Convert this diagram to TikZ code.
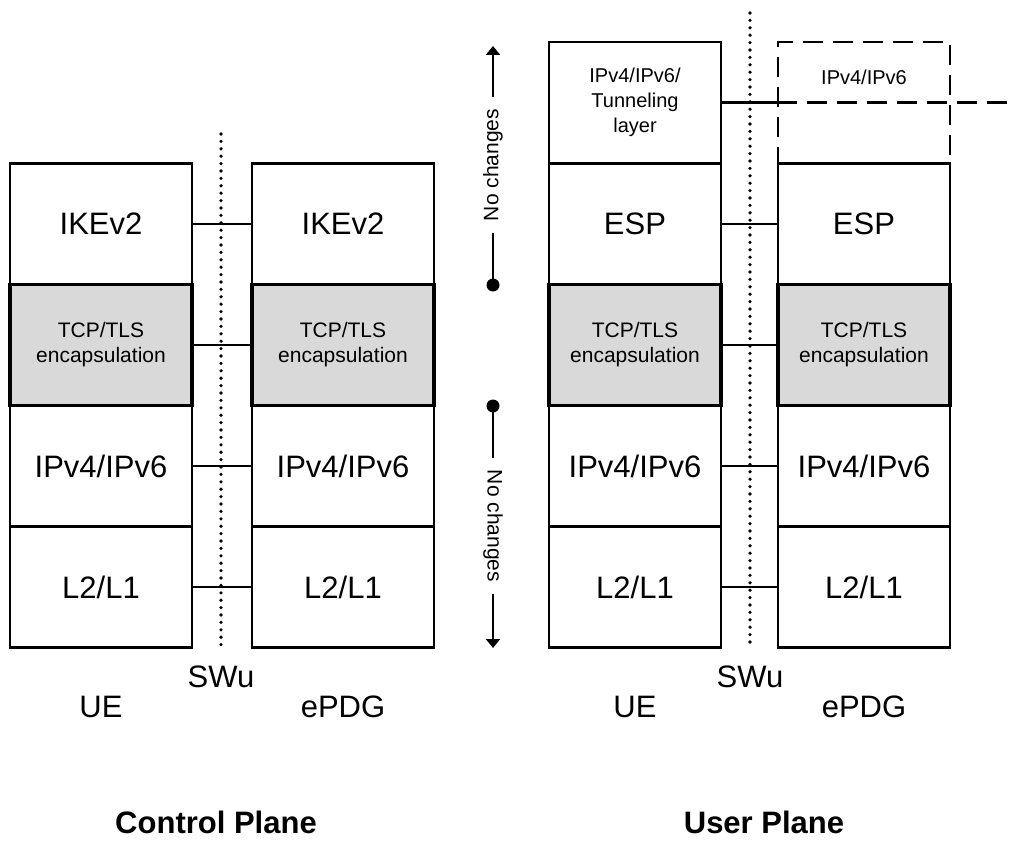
\documentclass[tikz,border=0pt]{standalone}
\usepackage{fontspec}
\setmainfont{Liberation Sans}
\usetikzlibrary{arrows.meta}
\definecolor{tcpgray}{HTML}{D9D9D9}
\begin{document}
\begin{tikzpicture}[x=1pt,y=-1pt]
\tikzset{
 lay/.style={draw=black, line width=2.8pt, minimum height=121pt, inner sep=0pt, align=center, fill=white},
 wl/.style={minimum width=182pt},
 wr/.style={minimum width=172pt},
 big/.style={font=\fontsize{31}{36}\selectfont},
 small/.style={font=\fontsize{21}{25}\selectfont},
 tun/.style={font=\fontsize{20}{25}\selectfont},
 tcp/.style={lay, small, fill=tcpgray, line width=3.8pt},
 link/.style={line width=2.3pt},
 dashedlink/.style={line width=2.6pt, dash pattern=on 20pt off 10pt},
 dots/.style={line width=3.6pt, dash pattern=on 0pt off 7.4pt, line cap=round},
 lbl/.style={font=\fontsize{31}{36}\selectfont, inner sep=0pt, anchor=base},
 title/.style={font=\bfseries\fontsize{31}{36}\selectfont, inner sep=0pt, anchor=base},
 nochg/.style={font=\fontsize{21}{25}\selectfont, fill=white, inner xsep=12pt, inner ysep=1pt},
 dotnode/.style={circle, fill=black, inner sep=0pt, minimum size=13pt},
 tip/.style={-{Triangle[length=9pt,width=14pt]}},
}
\useasboundingbox (0,0) rectangle (1013,843);

% dotted reference lines
\coordinate (d1t) at (221,134);
\coordinate (d1b) at (221,647);
\coordinate (d2t) at (750,13);
\coordinate (d2b) at (750,647);
\draw[dots] (d1t) -- (d1b);
\draw[dots] (d2t) -- (d2b);

% ---------- Control plane ----------
\node[lay,wl,big] (cu1) at (101,224) {IKEv2};
\node[lay,wl,big] (cu3) at (101,466) {IPv4/IPv6};
\node[lay,wl,big] (cu4) at (101,587) {L2/L1};
\node[tcp,wl] (cu2) at (101,345) {TCP/TLS\\encapsulation};

\node[lay,wl,big] (ce1) at (343,224) {IKEv2};
\node[lay,wl,big] (ce3) at (343,466) {IPv4/IPv6};
\node[lay,wl,big] (ce4) at (343,587) {L2/L1};
\node[tcp,wl] (ce2) at (343,345) {TCP/TLS\\encapsulation};

\draw[link] (cu1) -- (ce1);
\draw[link] (cu2) -- (ce2);
\draw[link] (cu3) -- (ce3);
\draw[link] (cu4) -- (ce4);

\node[lbl] (csw) at (221,687) {SWu};
\node[lbl] (cue) at (101,717) {UE};
\node[lbl] (cep) at (343,717) {ePDG};
\node[title] (ctitle) at (216,833) {Control Plane};

% ---------- User plane ----------
\node[draw=black, dashedlink, minimum width=172pt, minimum height=121pt, inner sep=0pt] (dip) at (864,102.5) {};
\node[tun] (diptxt) at (864,77) {IPv4/IPv6};

\node[lay,wr,tun] (ut) at (635,102.5) {IPv4/IPv6/\\Tunneling\\layer};
\node[lay,wr,big] (uu1) at (635,224) {ESP};
\node[lay,wr,big] (uu3) at (635,466) {IPv4/IPv6};
\node[lay,wr,big] (uu4) at (635,587) {L2/L1};
\node[tcp,wr] (uu2) at (635,345) {TCP/TLS\\encapsulation};

\node[lay,wr,big] (ue1) at (864,224) {ESP};
\node[lay,wr,big] (ue3) at (864,466) {IPv4/IPv6};
\node[lay,wr,big] (ue4) at (864,587) {L2/L1};
\node[tcp,wr] (ue2) at (864,345) {TCP/TLS\\encapsulation};

\coordinate (rend) at (1013,102.5);
\draw[link] (ut) -- (dip);
\draw[link, dash pattern=on 20pt off 10pt] (dip.west) -- (rend);
\draw[link] (uu1) -- (ue1);
\draw[link] (uu2) -- (ue2);
\draw[link] (uu3) -- (ue3);
\draw[link] (uu4) -- (ue4);

\node[lbl] (usw) at (750,687) {SWu};
\node[lbl] (uue) at (635,717) {UE};
\node[lbl] (uep) at (864,717) {ePDG};
\node[title] (utitle) at (764,833) {User Plane};

% ---------- "No changes" arrows ----------
\node[dotnode] (dot1) at (493,285) {};
\coordinate (a1t) at (493,46);
\draw[link,tip] (dot1.center) -- (a1t);
\node[nochg, rotate=90] (nc1) at (493,165) {No changes};

\node[dotnode] (dot2) at (493,406) {};
\coordinate (a2t) at (493,648);
\draw[link,tip] (dot2.center) -- (a2t);
\node[nochg, rotate=-90] (nc2) at (493,526) {No changes};
\end{tikzpicture}
\end{document}
